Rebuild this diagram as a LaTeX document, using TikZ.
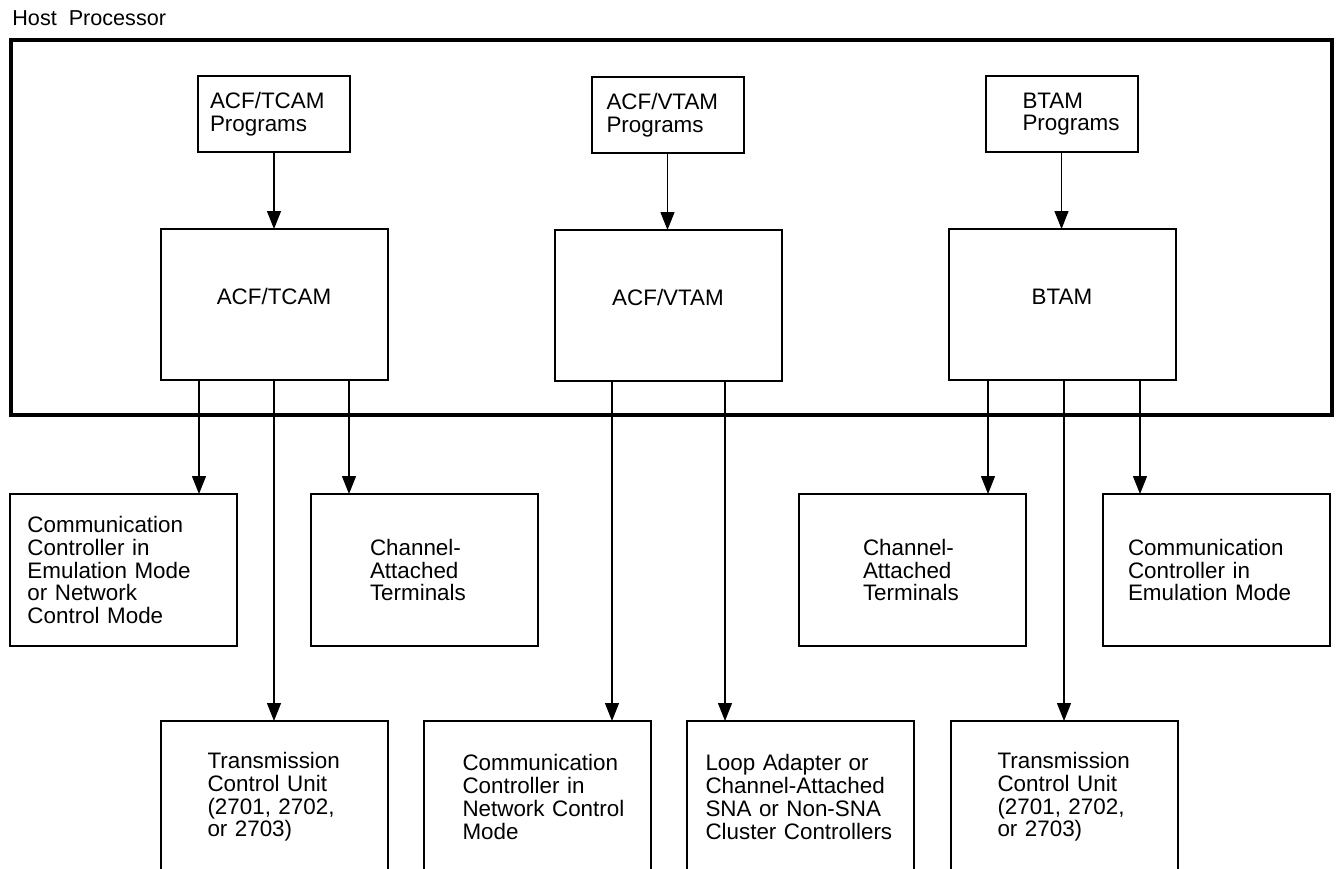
\documentclass[tikz,border=0pt]{standalone}
\usepackage{fontspec}
\setmainfont{Liberation Sans}[WordSpace=2]
\usepackage{tikz}
\usetikzlibrary{arrows.meta}

\tikzset{
  arr/.style={line width=0.65pt, -{Triangle[length=9pt,width=7pt]}},
  lpad/.style={execute at begin node={\leftskip=#1}},
  box/.style={draw, line width=1pt, inner xsep=0pt, inner ysep=2pt, outer sep=0pt},
  progbox/.style={box, text width=76pt, minimum height=38pt, align=left},
  mainbox/.style={box, text width=113.5pt, minimum height=75.5pt, align=center,
    text height=6pt, text depth=6pt},
  unitbox/.style={box, text width=113.5pt, minimum height=76pt, align=left},
  hostbox/.style={draw, line width=1.6pt, inner sep=0pt, outer sep=0pt}
}

\begin{document}
\begin{tikzpicture}[x=0.5pt, y=-0.5pt, font=\fontsize{11.2}{11.35}\selectfont]
      \useasboundingbox (0,0) rectangle (1337,868);
      \clip (0,0) rectangle (1337,868);

      %%host
      \node [anchor=base west, inner sep=0pt, font=\fontsize{10.8}{12}\selectfont] (hostlbl) at (12,25) {Host Processor};
      \node [hostbox, minimum width=660.5pt, minimum height=187.5pt] (host) at (671.5,227.5) {};

      %%access methods
      \node [progbox, lpad=6pt] (tcamprog) at (274,114) {ACF/TCAM\\Programs};
      \node [progbox, lpad=7.5pt] (vtamprog) at (667.5,115) {ACF/VTAM\\Programs};
      \node [progbox, lpad=18.5pt] (btamprog) at (1061.5,114) {BTAM\\Programs};

      \node [mainbox] (tcam) at (274,304.5) {ACF/TCAM};
      \node [mainbox] (vtam) at (668,305.5) {ACF/VTAM};
      \node [mainbox] (btam) at (1062,304.5) {BTAM};

      \draw [arr] (tcamprog.south) -- (tcamprog.south |- tcam.north);
      \draw [arr] (vtamprog.south) -- (vtamprog.south |- vtam.north);
      \draw [arr] (btamprog.south) -- (btamprog.south |- btam.north);

      %%attached units
      \node [unitbox, lpad=9pt] (ccnet) at (123,570) {Communication\\Controller in\\Emulation Mode\\or Network\\Control Mode};
      \node [unitbox, lpad=29.5pt] (chanl) at (424.5,570) {Channel-\\Attached\\Terminals};
      \node [unitbox, lpad=32pt] (chanr) at (912.5,570) {Channel-\\Attached\\Terminals};
      \node [unitbox, lpad=12.5pt] (ccemu) at (1216.5,570) {Communication\\Controller in\\Emulation Mode};

      \node [unitbox, lpad=23.5pt] (tcul) at (274,797) {Transmission\\Control Unit\\(2701, 2702,\\or 2703)};
      \node [unitbox, lpad=19.5pt] (ccncp) at (537,797) {Communication\\Controller in\\Network Control\\Mode};
      \node [unitbox, lpad=9.5pt] (loop) at (800,797) {Loop Adapter or\\Channel-Attached\\SNA or Non-SNA\\Cluster Controllers};
      \node [unitbox, lpad=23.5pt] (tcur) at (1064,797) {Transmission\\Control Unit\\(2701, 2702,\\or 2703)};

      \draw [arr] ([xshift=-37.5pt]tcam.south) -- ([xshift=-37.5pt]tcam.south |- ccnet.north);
      \draw [arr] (tcam.south) -- (tcam.south |- tcul.north);
      \draw [arr] ([xshift=37.5pt]tcam.south) -- ([xshift=37.5pt]tcam.south |- chanl.north);

      \draw [arr] ([xshift=-28pt]vtam.south) -- ([xshift=-28pt]vtam.south |- ccncp.north);
      \draw [arr] ([xshift=28.5pt]vtam.south) -- ([xshift=28.5pt]vtam.south |- loop.north);

      \draw [arr] ([xshift=-37pt]btam.south) -- ([xshift=-37pt]btam.south |- chanr.north);
      \draw [arr] ([xshift=1pt]btam.south) -- ([xshift=1pt]btam.south |- tcur.north);
      \draw [arr] ([xshift=39pt]btam.south) -- ([xshift=39pt]btam.south |- ccemu.north);

      \end{tikzpicture}
\end{document}
